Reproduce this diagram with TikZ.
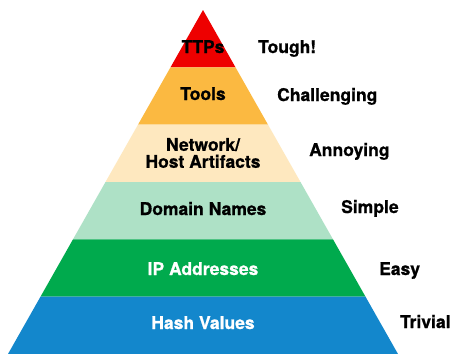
\documentclass[tikz,border=0pt]{standalone}
\usepackage{fontspec}
\setmainfont{TeX Gyre Heros}
\newfontfamily\heavyfont{TeX Gyre Heros}[BoldFeatures={FakeBold=0.8}]
\definecolor{cRed}{HTML}{EE0000}
\definecolor{cOrange}{HTML}{FBB941}
\definecolor{cTan}{HTML}{FEE8BF}
\definecolor{cMint}{HTML}{AEE1C6}
\definecolor{cGreen}{HTML}{00AA4D}
\definecolor{cBlue}{HTML}{1387CC}
\begin{document}
\begin{tikzpicture}[x=1pt,y=-1pt,
  lbl/.style={font=\heavyfont\bfseries\fontsize{17.5}{17}\selectfont, text=black, inner sep=0pt, align=center},
  wlbl/.style={lbl, text=white},
  rlbl/.style={font=\heavyfont\bfseries\fontsize{17.5}{17}\selectfont, text=black, inner sep=0pt, anchor=base west}]
\useasboundingbox[fill=white] (0,0) rectangle (451,354);
% layers
\fill[cRed]    (203,10) -- (235.5,67.33) -- (170.5,67.33) -- cycle;
\fill[cOrange] (170.5,67.33) -- (235.5,67.33) -- (268,124.67) -- (138,124.67) -- cycle;
\fill[cTan]    (138,124.67) -- (268,124.67) -- (300.5,182) -- (105.5,182) -- cycle;
\fill[cMint]   (105.5,182) -- (300.5,182) -- (333,239.33) -- (73,239.33) -- cycle;
\fill[cGreen]  (73,239.33) -- (333,239.33) -- (365.5,296.67) -- (40.5,296.67) -- cycle;
\fill[cBlue]   (40.5,296.67) -- (365.5,296.67) -- (398,354) -- (8,354) -- cycle;
% layer labels
\node[lbl, anchor=base] (ttps) at (203,53) {TTPs};
\node[lbl, anchor=base] (tools) at (203,100) {Tools};
\node[lbl] (net) at (203,153) {Network/\\Host Artifacts};
\node[lbl, anchor=base] (dom) at (203,215) {Domain Names};
\node[wlbl, anchor=base] (ip) at (203,275) {IP Addresses};
\node[wlbl, anchor=base] (hash) at (203,329) {Hash Values};
% difficulty labels
\node[rlbl] (tough) at (258,53) {Tough!};
\node[rlbl] (chal) at (277,101) {Challenging};
\node[rlbl] (ann) at (309,156) {Annoying};
\node[rlbl] (simp) at (341,213) {Simple};
\node[rlbl] (easy) at (379,275) {Easy};
\node[rlbl] (triv) at (400,328) {Trivial};
\end{tikzpicture}
\end{document}
